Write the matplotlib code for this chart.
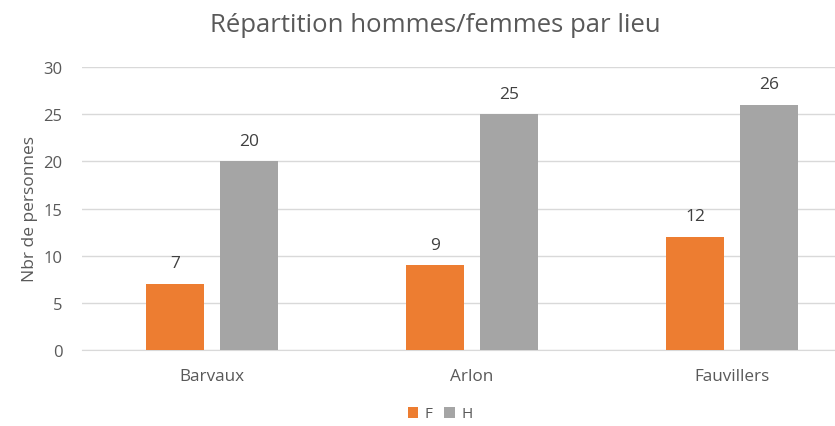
import matplotlib.pyplot as plt
import numpy as np

# Data
lieux = ['Barvaux', 'Arlon', 'Fauvillers']
femmes = [7, 9, 12]
hommes = [20, 25, 26]

orange = '#ED7D31'
gris = '#A5A5A5'
txt = '#595959'

plt.rcParams['font.family'] = ['Open Sans', 'DejaVu Sans']

fig = plt.figure(figsize=(8.35, 4.27), dpi=100)
ax = fig.add_axes([82/835, 1-351/427, 780/835, (351-68)/427])

x = np.arange(len(lieux))
w = 0.223
b1 = ax.bar(x - 0.142, femmes, w, color=orange, label='F', zorder=3)
b2 = ax.bar(x + 0.142, hommes, w, color=gris, label='H', zorder=3)

for bars in (b1, b2):
    for b in bars:
        ax.annotate(str(int(b.get_height())), (b.get_x() + b.get_width()/2, b.get_height()),
                    xytext=(0, 9), textcoords='offset points', ha='center', va='bottom',
                    fontsize=12.5, color='#404040')

ax.set_xlim(-0.5, 2.5)
ax.set_ylim(0, 30)
ax.set_yticks(range(0, 31, 5))
ax.set_xticks(x)
ax.set_xticklabels(lieux)
ax.tick_params(axis='x', length=0, labelsize=12.3, colors=txt, pad=13)
ax.tick_params(axis='y', length=0, labelsize=12, colors=txt, pad=14)
ax.yaxis.grid(True, color='#D9D9D9', linewidth=1, zorder=0)
for s in ['top', 'right', 'left']:
    ax.spines[s].set_visible(False)
ax.spines['bottom'].set_color('#D9D9D9')

ax.set_ylabel('Nbr de personnes', fontsize=12.5, color=txt, labelpad=4)
fig.text(435/835, 1-25/427, 'Répartition hommes/femmes par lieu', ha='center', va='center',
         fontsize=18.5, color=txt)

fig.legend(handles=[b1, b2], loc='center', bbox_to_anchor=(440/835, 1-415/427), ncol=2,
           frameon=False, fontsize=11, handlelength=0.7, handleheight=0.7,
           columnspacing=0.8, handletextpad=0.4, labelcolor=txt)

fig.savefig('out.png', dpi=100)
